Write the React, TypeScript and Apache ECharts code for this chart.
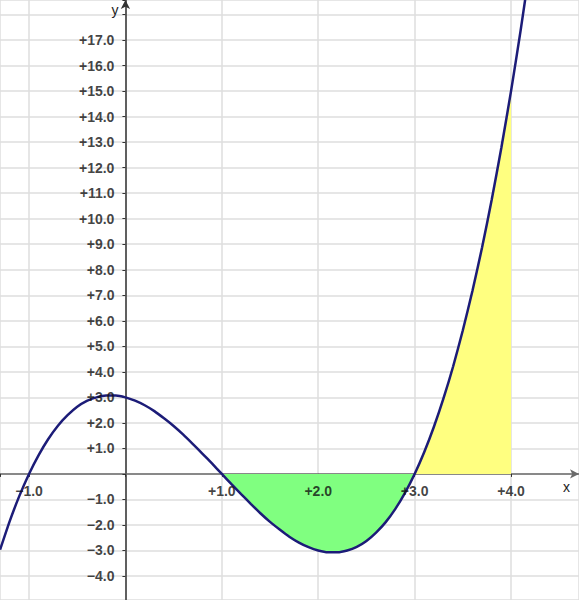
import React, { useEffect, useRef } from "react";
import * as echarts from "echarts";

// Points
const xValues = [
  -1.3, -1.2, -1.1, -1.0, -0.9, -0.8, -0.7, -0.6, -0.5, -0.4, -0.3, -0.2, -0.1,
  0.0, 0.1, 0.2, 0.3, 0.4, 0.5, 0.6, 0.7, 0.8, 0.9, 1.0, 1.1, 1.2, 1.3, 1.4,
  1.5, 1.6, 1.7, 1.8, 1.9, 2.0, 2.1, 2.2, 2.3, 2.4, 2.5, 2.6, 2.7, 2.8, 2.9,
  3.0, 3.1, 3.2, 3.3, 3.4, 3.5, 3.6, 3.7, 3.8, 3.9, 4.0, 4.1, 4.2,
];
const yValues = [
  -2.97, -1.85, -0.86, 0.0, 0.74, 1.37, 1.89, 2.3, 2.63, 2.86, 3.0, 3.07, 3.07,
  3.0, 2.87, 2.69, 2.46, 2.18, 1.88, 1.54, 1.17, 0.79, 0.4, 0.0, -0.4, -0.79,
  -1.17, -1.54, -1.88, -2.18, -2.46, -2.69, -2.87, -3.0, -3.07, -3.07, -3.0,
  -2.86, -2.63, -2.3, -1.89, -1.37, -0.74, 0.0, 0.86, 1.85, 2.97, 4.22, 5.63,
  7.18, 8.88, 10.75, 12.79, 15.0, 17.39, 19.97,
];
const greenRange = [1.0, 3.0];
const yellowRange = [3.0, 4.0];

// Tick labels
const xTickLabels = [-1, 1, 2, 3, 4];
const yTickLabels = [
  -4, -3, -2, -1, 1, 2, 3, 4, 5, 6, 7, 8, 9, 10, 11, 12, 13, 14, 15, 16, 17,
];

const xMin = -1.301;
const xMax = 4.705;
const yMin = -4.94;
const yMax = 18.57;

function fmt(v: number): string {
  return v > 0 ? "+" + v.toFixed(1) : "\u2212" + Math.abs(v).toFixed(1);
}

export default function App() {
  const ref = useRef<HTMLDivElement>(null);
  useEffect(() => {
    if (!ref.current) return;
    const chart = echarts.init(ref.current, undefined, { renderer: "svg" });
    const curve = xValues.map((x, i) => [x, yValues[i]]);
    const part = (r: number[]) =>
      curve.filter((p) => p[0] >= r[0] - 1e-9 && p[0] <= r[1] + 1e-9);
    const labelStyle = {
      fontFamily: "Liberation Sans",
      fontWeight: "bold" as const,
      fontSize: 14,
      color: "#111",
    };
    chart.setOption({
      animation: false,
      backgroundColor: "#ffffff",
      grid: {
        left: 0,
        right: 0,
        top: 0,
        bottom: 0,
        containLabel: false,
        outerBoundsMode: "none",
      },
      xAxis: {
        type: "value",
        min: xMin,
        max: xMax,
        minInterval: 1,
        maxInterval: 1,
        name: "x",
        nameLocation: "end",
        nameGap: -16,
        nameTextStyle: {
          fontFamily: "Liberation Sans",
          fontSize: 14,
          color: "#222",
          align: "left",
          verticalAlign: "top",
          padding: [6, 0, 0, 0],
        },
        axisLine: {
          onZero: true,
          lineStyle: { color: "#6a6a6a", width: 1.5 },
          symbol: ["none", "arrow"],
          symbolSize: [7, 9],
        },
        axisTick: { show: true, length: 3, lineStyle: { color: "#333" } },
        axisLabel: { show: false },
        splitLine: { show: true, lineStyle: { color: "#dedede", width: 1.5 } },
      },
      yAxis: {
        type: "value",
        min: yMin,
        max: yMax,
        minInterval: 1,
        maxInterval: 1,
        name: "y",
        nameLocation: "end",
        nameGap: -17,
        nameTextStyle: {
          fontFamily: "Liberation Sans",
          fontSize: 14,
          color: "#222",
          align: "right",
          verticalAlign: "bottom",
          padding: [0, 7, 0, 0],
        },
        axisLine: {
          onZero: true,
          lineStyle: { color: "#333", width: 1.5 },
          symbol: ["none", "arrow"],
          symbolSize: [7, 9],
        },
        axisTick: { show: true, length: 3, lineStyle: { color: "#333" } },
        axisLabel: { show: false },
        splitLine: { show: true, lineStyle: { color: "#dedede", width: 1.5 } },
      },
      series: [
        {
          type: "line",
          data: part(greenRange),
          showSymbol: false,
          symbol: "none",
          lineStyle: { width: 0, opacity: 0 },
          areaStyle: { color: "#80ff80", opacity: 1 },
          z: 1,
          silent: true,
        },
        {
          type: "line",
          data: part(yellowRange),
          showSymbol: false,
          symbol: "none",
          lineStyle: { width: 0, opacity: 0 },
          areaStyle: { color: "#ffff80", opacity: 1 },
          z: 1,
          silent: true,
        },
        {
          type: "line",
          data: curve,
          showSymbol: false,
          symbol: "none",
          smooth: 0.2,
          lineStyle: { color: "#1c1c78", width: 2.5 },
          z: 3,
          silent: true,
        },
        {
          type: "scatter",
          data: xTickLabels.map((v) => [v, 0]),
          symbolSize: 0,
          silent: true,
          z: 4,
          label: {
            show: true,
            position: "bottom",
            distance: 10,
            ...labelStyle,
            formatter: (p: any) => fmt(p.value[0]),
          },
        },
        {
          type: "scatter",
          data: yTickLabels.map((v) => [0, v]),
          symbolSize: 0,
          silent: true,
          z: 4,
          label: {
            show: true,
            position: "left",
            distance: 11,
            ...labelStyle,
            formatter: (p: any) => fmt(p.value[1]),
          },
        },
      ],
    });
    return () => chart.dispose();
  }, []);
  return (
    <div
      ref={ref}
      style={{ position: "absolute", left: 0, top: 0, width: 579, height: 600 }}
    />
  );
}
